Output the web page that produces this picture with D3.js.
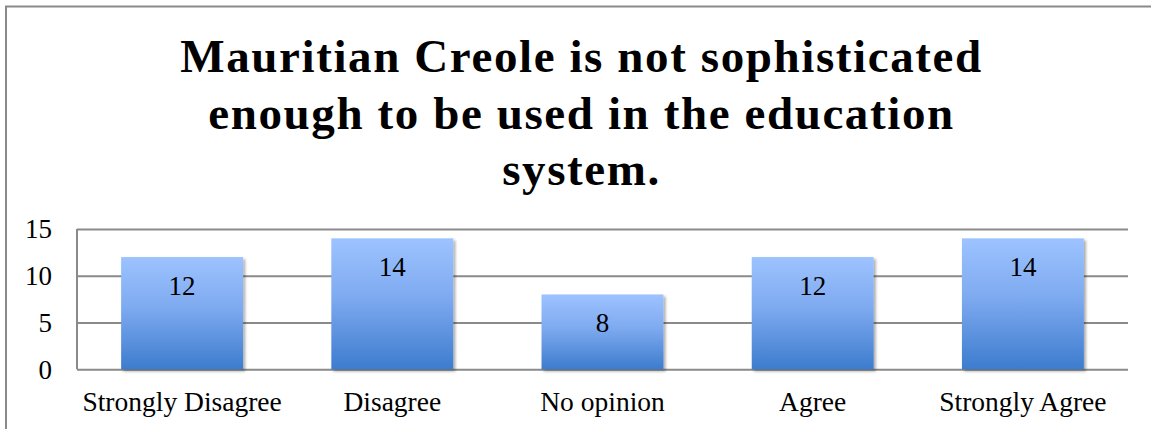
<!DOCTYPE html>
<html>
<head>
<meta charset="utf-8">
<script src="https://cdn.jsdelivr.net/npm/d3@7"></script>
<style>
  html, body { margin: 0; padding: 0; background: #fff; }
  svg { display: block; }
</style>
</head>
<body>
<svg id="chart" width="1151" height="429"></svg>
<script>
// Survey responses
const categories = ["Strongly Disagree", "Disagree", "No opinion", "Agree", "Strongly Agree"];
const counts = [12, 14, 8, 12, 14];
const yTicks = [0, 5, 10, 15];
const titleLines = [
  "Mauritian Creole is not sophisticated",
  "enough to be used in the education",
  "system."
];

const svg = d3.select("#chart");
const plot = { left: 77, right: 1128, top: 229, bottom: 369.3 };
const serif = "'Liberation Serif', 'Times New Roman', serif";
const gridColor = "#8a8a8a";

// Outer chart frame (extends past the window on the right and bottom)
svg.append("rect")
  .attr("x", 6).attr("y", 6.5)
  .attr("width", 1170).attr("height", 450)
  .attr("fill", "#fff")
  .attr("stroke", gridColor)
  .attr("stroke-width", 2);

// Title
const titleCenter = 581.5;
svg.append("g").selectAll("text")
  .data(titleLines)
  .join("text")
  .attr("x", titleCenter)
  .attr("y", (d, i) => 72 + i * 56.5)
  .attr("text-anchor", "middle")
  .attr("font-family", serif)
  .attr("font-weight", "bold")
  .attr("font-size", 47)
  .attr("letter-spacing", 1.6)
  .attr("fill", "#000")
  .text(d => d);

// Scales
const x = d3.scaleBand()
  .domain(categories)
  .range([plot.left, plot.right])
  .paddingInner(0.42)
  .paddingOuter(0.21);

const y = d3.scaleLinear()
  .domain([0, 15])
  .range([plot.bottom, plot.top]);

// Gradient and shadow for bars
const defs = svg.append("defs");
const grad = defs.append("linearGradient")
  .attr("id", "barFill")
  .attr("x1", 0).attr("y1", 0).attr("x2", 0).attr("y2", 1);
grad.append("stop").attr("offset", "0%").attr("stop-color", "#9dc3ff");
grad.append("stop").attr("offset", "45%").attr("stop-color", "#7eaaf0");
grad.append("stop").attr("offset", "100%").attr("stop-color", "#3d7cce");

const shadow = defs.append("filter")
  .attr("id", "barShadow")
  .attr("x", "-10%").attr("y", "-10%")
  .attr("width", "130%").attr("height", "130%");
shadow.append("feGaussianBlur").attr("in", "SourceAlpha").attr("stdDeviation", 1.8).attr("result", "blur");
shadow.append("feOffset").attr("in", "blur").attr("dx", 1.5).attr("dy", 2).attr("result", "off");
shadow.append("feComponentTransfer").attr("in", "off").attr("result", "soft")
  .append("feFuncA").attr("type", "linear").attr("slope", 0.35);
const merge = shadow.append("feMerge");
merge.append("feMergeNode").attr("in", "soft");
merge.append("feMergeNode").attr("in", "SourceGraphic");

// Gridlines via axis
const yAxis = d3.axisLeft(y)
  .tickValues(yTicks)
  .tickSize(-(plot.right - plot.left))
  .tickFormat(d3.format("d"))
  .tickPadding(25);

const gy = svg.append("g")
  .attr("transform", `translate(${plot.left},0)`)
  .call(yAxis);
gy.select(".domain")
  .attr("stroke", gridColor)
  .attr("stroke-width", 2)
  .attr("d", `M0,${plot.top}V${plot.bottom}`);
gy.selectAll(".tick line")
  .attr("stroke", gridColor)
  .attr("stroke-width", 2);
gy.selectAll(".tick text")
  .attr("font-family", serif)
  .attr("font-size", 27)
  .attr("fill", "#000")
  .attr("dy", "0.33em");

// Bars
svg.append("g")
  .selectAll("rect")
  .data(categories)
  .join("rect")
  .attr("x", d => x(d))
  .attr("y", (d, i) => y(counts[i]))
  .attr("width", x.bandwidth())
  .attr("height", (d, i) => y(0) - y(counts[i]))
  .attr("fill", "url(#barFill)")
  .attr("filter", "url(#barShadow)");

// Value labels
svg.append("g")
  .selectAll("text")
  .data(categories)
  .join("text")
  .attr("x", d => x(d) + x.bandwidth() / 2)
  .attr("y", (d, i) => y(counts[i]) + 38)
  .attr("text-anchor", "middle")
  .attr("font-family", serif)
  .attr("font-size", 27)
  .attr("fill", "#000")
  .text((d, i) => counts[i]);

// Category labels
const xAxis = d3.axisBottom(x).tickSize(0).tickPadding(0);
const gx = svg.append("g")
  .attr("transform", `translate(0,${plot.bottom})`)
  .call(xAxis);
gx.select(".domain").remove();
gx.selectAll(".tick text")
  .attr("font-family", serif)
  .attr("font-size", 27.5)
  .attr("fill", "#000")
  .attr("dy", 0)
  .attr("y", 42);
</script>
</body>
</html>
